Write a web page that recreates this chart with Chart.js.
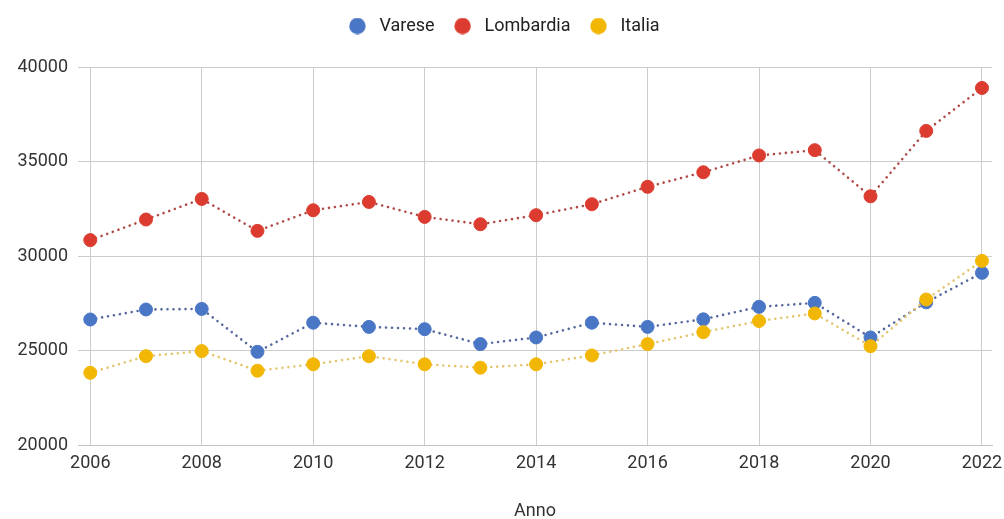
<!DOCTYPE html>
<html>
<head>
<meta charset="utf-8">
<script src="https://cdn.jsdelivr.net/npm/chart.js@4/dist/chart.umd.min.js"></script>
<style>
  html, body { margin: 0; padding: 0; background: #ffffff; }
  #wrap { width: 1004px; height: 519px; position: relative; }
</style>
</head>
<body>
<div id="wrap"><canvas id="chart" width="1004" height="519"></canvas></div>
<script>
// Reddito medio per anno
const years = [2006, 2007, 2008, 2009, 2010, 2011, 2012, 2013, 2014, 2015, 2016, 2017, 2018, 2019, 2020, 2021, 2022];
const varese = [26640, 27170, 27200, 24930, 26470, 26250, 26130, 25340, 25690, 26470, 26250, 26650, 27310, 27520, 25690, 27550, 29110];
const lombardia = [30840, 31930, 33020, 31330, 32420, 32860, 32070, 31680, 32160, 32740, 33660, 34430, 35320, 35600, 33160, 36620, 38890];
const italia = [23820, 24700, 24970, 23930, 24270, 24700, 24270, 24090, 24270, 24740, 25340, 25970, 26560, 26960, 25230, 27700, 29740];
const xTicks = [2006, 2008, 2010, 2012, 2014, 2016, 2018, 2020, 2022];
const yTicks = [20000, 25000, 30000, 35000, 40000];

const seriesNames = ['Varese', 'Lombardia', 'Italia'];
const pointColors = ['#4a76c6', '#dc3c30', '#f2b705'];
const lineColors = ['#56689c', '#b04a45', '#e3c56e'];
const seriesValues = [varese, lombardia, italia];
const drawOrder = [1, 1, 0];

const FONT = 'Roboto, "Liberation Sans", Arial, sans-serif';
const FONT_SIZE = 18;

// round legend markers
function dotImage(color) {
  const c = document.createElement('canvas');
  c.width = 17; c.height = 17;
  const g = c.getContext('2d');
  g.fillStyle = color;
  g.beginPath();
  g.arc(8.5, 8.5, 8.2, 0, Math.PI * 2);
  g.fill();
  return c;
}
const legendDots = pointColors.map(dotImage);

const datasets = seriesNames.map((name, i) => ({
  label: name,
  data: years.map((yr, k) => ({ x: yr, y: seriesValues[i][k] })),
  order: drawOrder[i],
  borderColor: lineColors[i],
  backgroundColor: pointColors[i],
  borderWidth: 2.6,
  borderDash: [0.01, 6],
  borderCapStyle: 'round',
  pointRadius: 6.5,
  pointHoverRadius: 6.5,
  pointBackgroundColor: pointColors[i],
  pointBorderColor: pointColors[i],
  pointBorderWidth: 1,
  pointStyle: 'circle',
  tension: 0,
  fill: false
}));

// extra space below the legend
const legendGap = {
  id: 'legendGap',
  beforeInit(chart) {
    const origFit = chart.legend.fit;
    chart.legend.fit = function () {
      origFit.call(this);
      this.height += 22;
    };
  }
};

new Chart(document.getElementById('chart'), {
  type: 'line',
  data: { datasets },
  plugins: [legendGap],
  options: {
    responsive: false,
    animation: false,
    layout: { padding: { left: 0, right: 0, top: 2, bottom: -3 } },
    plugins: {
      tooltip: { enabled: false },
      legend: {
        position: 'top',
        align: 'center',
        labels: {
          usePointStyle: true,
          pointStyleWidth: 26,
          boxHeight: 17,
          padding: 15,
          color: '#222222',
          font: { family: FONT, size: FONT_SIZE },
          generateLabels(chart) {
            return chart.data.datasets.map((ds, i) => ({
              text: ds.label,
              fillStyle: pointColors[i],
              strokeStyle: pointColors[i],
              lineWidth: 0,
              pointStyle: legendDots[i],
              hidden: false,
              datasetIndex: i,
              fontColor: '#222222'
            }));
          }
        }
      }
    },
    scales: {
      x: {
        type: 'linear',
        min: 2005.78,
        max: 2022.18,
        afterBuildTicks(scale) {
          scale.ticks = xTicks.map(v => ({ value: v }));
        },
        afterFit(scale) {
          scale.height = 77;
          scale.paddingLeft = 0;
          scale.paddingRight = 12;
        },
        grid: { color: '#cccccc', lineWidth: 1, drawTicks: false },
        border: { display: true, color: '#c4c4c4' },
        ticks: {
          padding: 8,
          color: '#333333',
          font: { family: FONT, size: FONT_SIZE },
          maxRotation: 0,
          callback: v => String(v)
        },
        title: {
          display: true,
          text: 'Anno',
          color: '#333333',
          font: { family: FONT, size: FONT_SIZE },
          padding: { top: 20, bottom: 0 }
        }
      },
      y: {
        type: 'linear',
        min: 20000,
        max: 40000,
        afterBuildTicks(scale) {
          scale.ticks = yTicks.map(v => ({ value: v }));
        },
        afterFit(scale) { scale.width = 78; },
        grid: { color: '#cccccc', lineWidth: 1, drawTicks: false },
        border: { display: false },
        ticks: {
          padding: 10,
          color: '#333333',
          font: { family: FONT, size: FONT_SIZE },
          callback: v => String(v)
        }
      }
    }
  }
});
</script>
</body>
</html>
